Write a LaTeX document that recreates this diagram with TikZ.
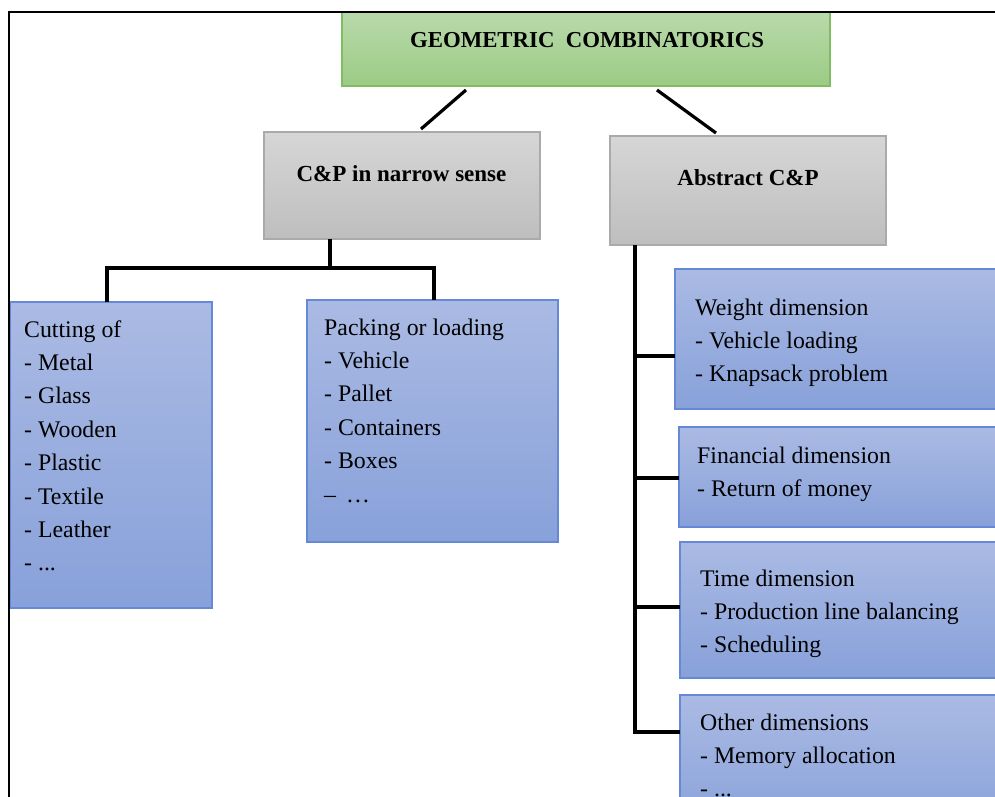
\documentclass[tikz,border=0pt]{standalone}
\usepackage{fontspec}
\setmainfont{Liberation Serif}
\usetikzlibrary{calc}
\definecolor{bluetop}{HTML}{AABAE3}
\definecolor{bluebot}{HTML}{88A1DA}
\definecolor{blueline}{HTML}{6589D6}
\definecolor{graytop}{HTML}{D6D6D6}
\definecolor{graybot}{HTML}{BEBEBE}
\definecolor{grayline}{HTML}{AAAAAA}
\definecolor{greentop}{HTML}{B9D9AB}
\definecolor{greenbot}{HTML}{9CCB85}
\definecolor{greenline}{HTML}{80BD62}
\begin{document}
\begin{tikzpicture}[x=1pt,y=-1pt,
  boxbase/.style={line width=1.3pt, inner sep=0pt, outer sep=0pt, anchor=north west},
  bluebox/.style={boxbase, draw=blueline, top color=bluetop, bottom color=bluebot},
  graybox/.style={boxbase, draw=grayline, top color=graytop, bottom color=graybot},
  greenbox/.style={boxbase, draw=greenline, top color=greentop, bottom color=greenbot},
  listtext/.style={inner sep=0pt, anchor=north west, align=left,
    font=\fontsize{23.8}{33.4}\selectfont},
  headtext/.style={inner sep=0pt, font=\fontsize{23}{28}\selectfont\bfseries},
  conn/.style={line width=3.2pt, black},
  frameline/.style={line width=2pt, black}]
\useasboundingbox (0,0) rectangle (995,796);
\clip (0,0) rectangle (995,796);
\fill[white] (0,0) rectangle (995,796);

% boxes
\node[greenbox, minimum width=488, minimum height=74] (green) at (342,12) {};
\node[graybox, minimum width=276, minimum height=107] (gl) at (264,132) {};
\node[graybox, minimum width=276, minimum height=109] (gr) at (610,136) {};
\node[bluebox, minimum width=202, minimum height=306] (b1) at (10,302) {};
\node[bluebox, minimum width=251, minimum height=242] (b2) at (307,300) {};
\node[bluebox, minimum width=330, minimum height=140] (bw) at (675,269) {};
\node[bluebox, minimum width=330, minimum height=100] (bf) at (679,427) {};
\node[bluebox, minimum width=330, minimum height=136] (bt) at (680,542) {};
\node[bluebox, minimum width=330, minimum height=140] (bo) at (680,695) {};

% headings
\node[headtext, font=\fontsize{22.8}{28}\selectfont\bfseries] (tg) at (587,40) {GEOMETRIC\ \ COMBINATORICS};
\node[headtext] (tgl) at (401.5,174) {C\&P in narrow sense};
\node[headtext] (tgr) at (748,178) {Abstract C\&P};

% list texts (first baseline minus 23.4)
\node[listtext] (t1) at (24,313.6) {\strut Cutting of\\- Metal\\- Glass\\- Wooden\\- Plastic\\- Textile\\- Leather\\- ...};
\node[listtext] (t2) at (324,311.6) {\strut Packing or loading\\- Vehicle\\- Pallet\\- Containers\\- Boxes\\– \,…};
\node[listtext] (tw) at (695,291.6) {\strut Weight\ dimension\\- Vehicle\ loading\\- Knapsack problem};
\node[listtext] (tf) at (697,439.6) {\strut Financial dimension\\- Return of money};
\node[listtext] (tt) at (700,562.6) {\strut Time dimension\\- Production line balancing\\- Scheduling};
\node[listtext] (to) at (700,706.6) {\strut Other dimensions\\- Memory allocation\\- ...};

% connectors
\draw[conn] ($(green.south west)+(124,4)$) -- ($(gl.north west)+(157,-3)$);
\draw[conn] ($(green.south west)+(315,4)$) -- ($(gr.north west)+(106,-3)$);

\coordinate (jl) at ($(gl.south west)+(66,29)$);
\draw[conn] ($(gl.south west)+(66,0)$) -- (jl);
\draw[conn] ($(b1.north west)+(97,0)$) |- (jl) -| ($(b2.north west)+(127,0)$);

\draw[conn] ($(gr.south west)+(25,0)$) |- ($(bw.north west)+(0,87)$);
\draw[conn] ($(gr.south west)+(25,0)$) |- ($(bf.north west)+(0,51)$);
\draw[conn] ($(gr.south west)+(25,0)$) |- ($(bt.north west)+(0,65)$);
\draw[conn] ($(gr.south west)+(25,0)$) |- ($(bo.north west)+(0,37)$);

% page frame
\draw[frameline] (9,800) -- (9,12) -- (1000,12);
\end{tikzpicture}
\end{document}
